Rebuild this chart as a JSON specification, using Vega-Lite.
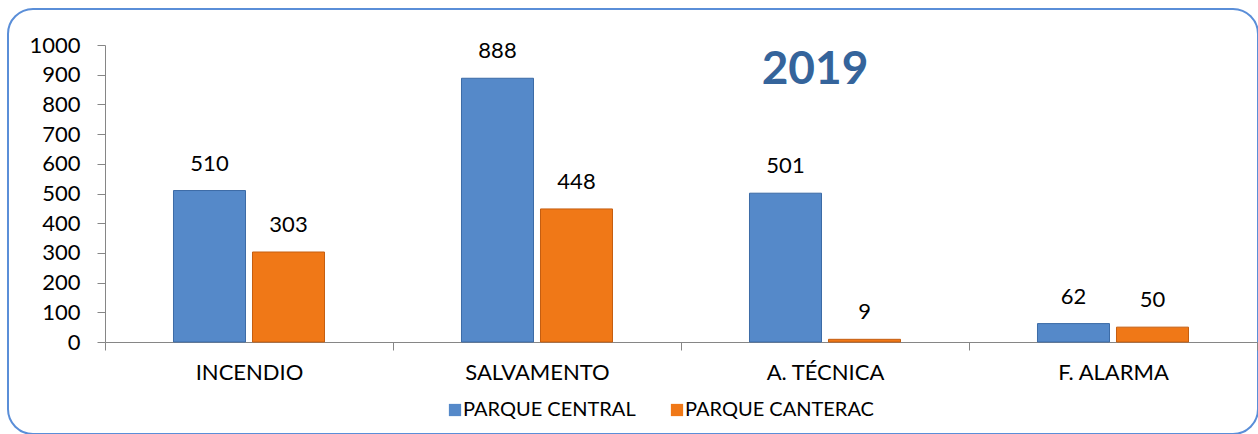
{
  "$schema": "https://vega.github.io/schema/vega-lite/v6.json",
  "width": 1250,
  "height": 425,
  "autosize": {"type": "none"},
  "padding": {"left": 8, "top": 9, "right": 0, "bottom": 0},
  "background": "white",
  "config": {
    "font": "Lato",
    "view": {"stroke": "#5a8ed8", "strokeWidth": 2, "cornerRadius": 25},
    "axis": {"labelFont": "Lato", "labelFontSize": 22, "labelColor": "#000000", "domainColor": "#868686", "tickColor": "#868686", "grid": false}
  },
  "title": {"text": "2019", "fontSize": 46, "fontWeight": "bold", "color": "#35649B", "font": "Lato", "anchor": "middle", "frame": "group", "dx": 182, "dy": 47, "offset": -74, "baseline": "alphabetic"},
  "data": {"values": [
    {"category": "INCENDIO", "series": "PARQUE CENTRAL", "value": 510},
    {"category": "INCENDIO", "series": "PARQUE CANTERAC", "value": 303},
    {"category": "SALVAMENTO", "series": "PARQUE CENTRAL", "value": 888},
    {"category": "SALVAMENTO", "series": "PARQUE CANTERAC", "value": 448},
    {"category": "A. TÉCNICA", "series": "PARQUE CENTRAL", "value": 501},
    {"category": "A. TÉCNICA", "series": "PARQUE CANTERAC", "value": 9},
    {"category": "F. ALARMA", "series": "PARQUE CENTRAL", "value": 62},
    {"category": "F. ALARMA", "series": "PARQUE CANTERAC", "value": 50}
  ]},
  "encoding": {
    "x": {"field": "category", "type": "nominal", "sort": ["INCENDIO", "SALVAMENTO", "A. TÉCNICA", "F. ALARMA"],
      "scale": {"range": [97, 1249], "paddingInner": 0, "paddingOuter": 0},
      "axis": {"title": null, "offset": -92, "labelAngle": 0, "tickBand": "extent", "tickSize": 8, "labelPadding": 12}},
    "xOffset": {"field": "series", "type": "nominal", "sort": ["PARQUE CENTRAL", "PARQUE CANTERAC"],
      "scale": {"paddingInner": 0.0886, "paddingOuter": 0.867}},
    "y": {"field": "value", "type": "quantitative",
      "scale": {"domain": [0, 1000], "range": [333, 36], "nice": false, "zero": true},
      "axis": {"title": null, "offset": -97, "format": "d", "values": [0, 100, 200, 300, 400, 500, 600, 700, 800, 900, 1000], "tickSize": 8, "labelPadding": 17}}
  },
  "layer": [
    {
      "mark": {"type": "bar", "strokeWidth": 1},
      "encoding": {
        "color": {"field": "series", "type": "nominal",
          "scale": {"domain": ["PARQUE CENTRAL", "PARQUE CANTERAC"], "range": ["#5589C9", "#F07817"]},
          "legend": {"title": null, "orient": "none", "legendX": 437, "legendY": 391, "direction": "horizontal", "symbolType": "square", "symbolSize": 150, "symbolStrokeWidth": 0, "labelFont": "Lato", "labelFontSize": 20, "labelColor": "#000000", "labelOffset": -2, "labelLimit": 0, "columnPadding": 31}},
        "stroke": {"field": "series", "type": "nominal",
          "scale": {"domain": ["PARQUE CENTRAL", "PARQUE CANTERAC"], "range": ["#3C6BA6", "#C55E10"]},
          "legend": null}
      }
    },
    {
      "mark": {"type": "text", "baseline": "alphabetic", "dy": -20, "fontSize": 22, "font": "Lato", "color": "#000000"},
      "encoding": {"text": {"field": "value", "type": "quantitative"}}
    }
  ]
}
